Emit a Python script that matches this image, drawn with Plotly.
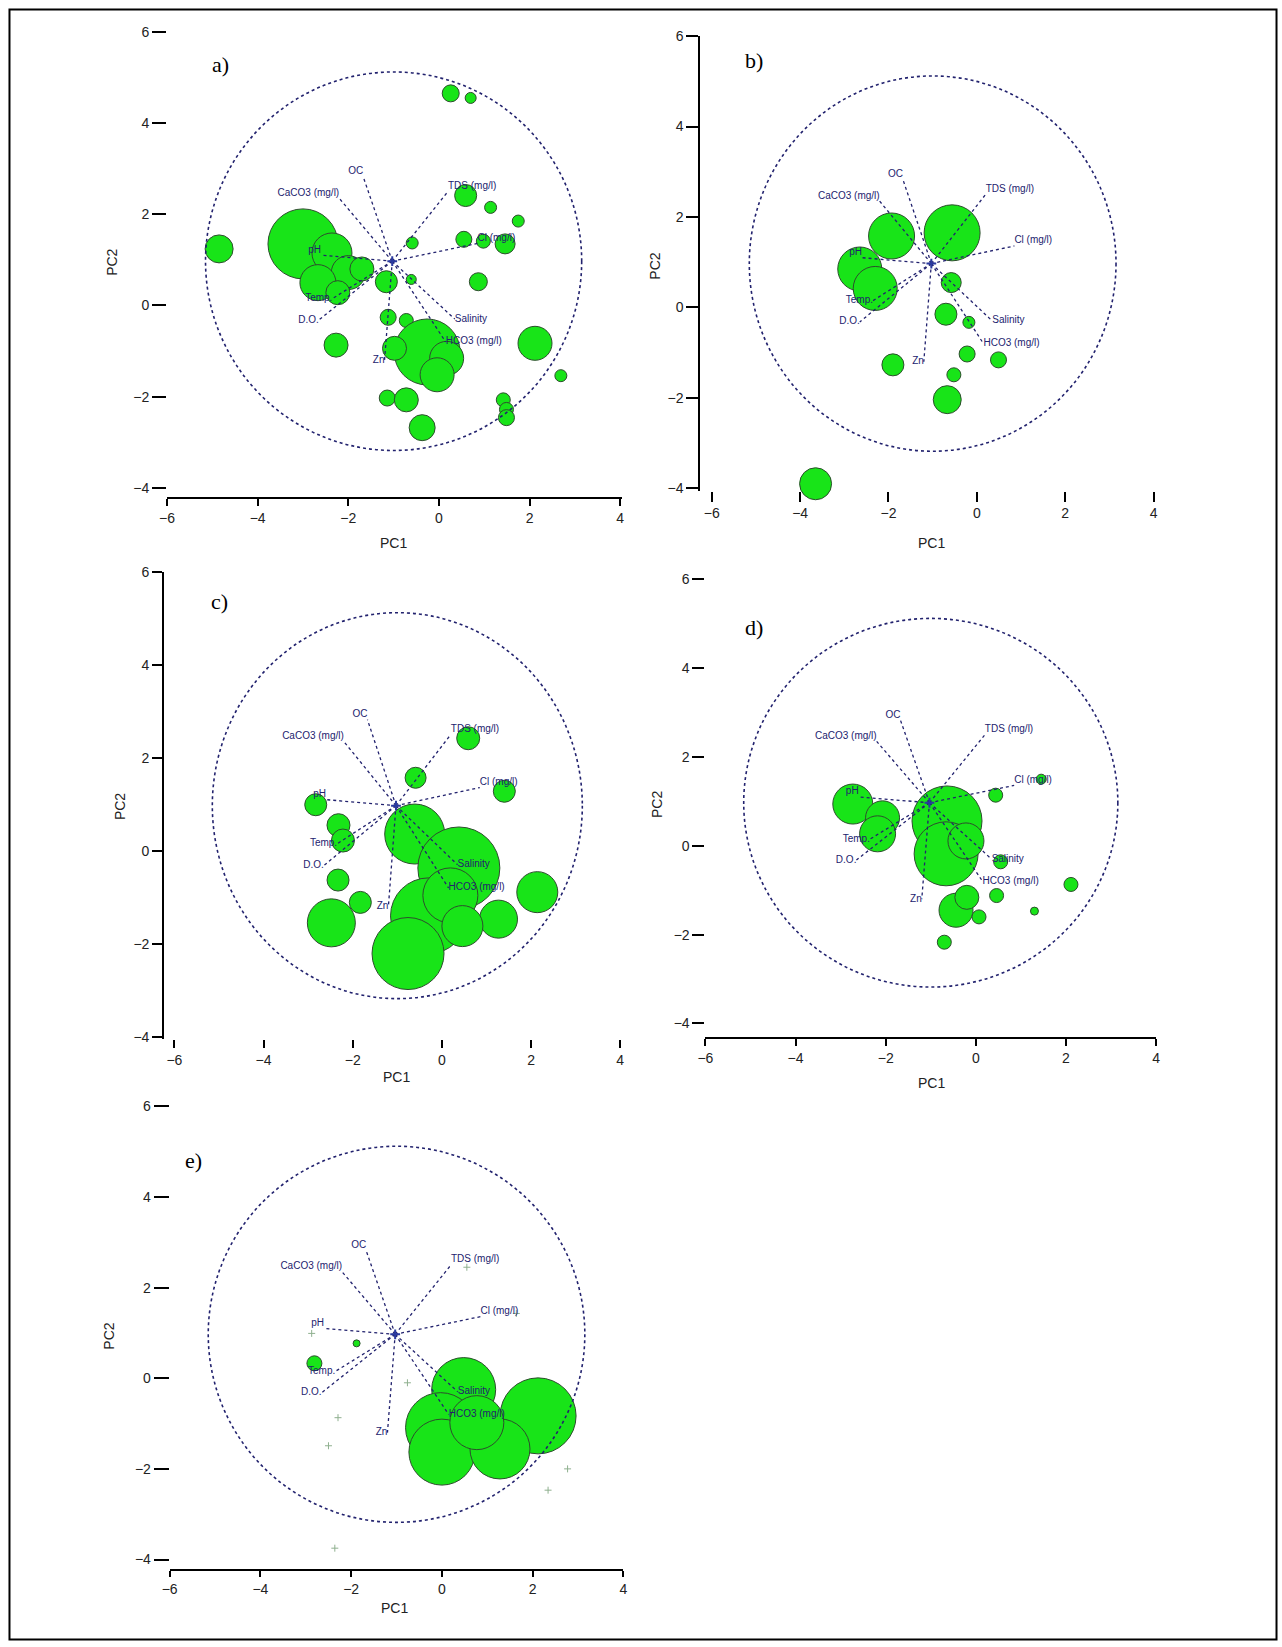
import plotly.graph_objects as go

W, H = 1282, 1647
GREEN = "#18e418"
NAVY = "#22226e"

# variable loadings: tips of the vectors (PC1, PC2), same set in every panel
var_names = ["OC", "CaCO3 (mg/l)", "TDS (mg/l)", "Cl (mg/l)", "pH",
             "Temp.", "D.O.", "Zn", "Salinity", "HCO3 (mg/l)"]
var_pc1 = [-1.67, -2.2, 0.2, 0.85, -2.6, -2.35, -2.65, -1.2, 0.35, 0.15]
var_pc2 = [2.82, 2.35, 2.5, 1.36, 1.1, 0.15, -0.32, -1.2, -0.3, -0.8]
var_textpos = ["top left", "top left", "top right", "top right", "top left",
               "middle left", "middle left", "middle left", "middle right", "middle right"]
origin = (-1.03, 0.97)
circle_c = (-1.0, 0.97)
circle_r = 4.15

# site scores and bubble diameters, panel a
a_pc1 = [0.26, 0.7, -4.85, -3.0, -2.36, -2.0, -2.67, -2.23, -1.7, -1.16, -0.61, -0.59,
         0.59, 1.14, 0.55, 0.98, 1.46, 1.75, 0.87, -1.12, -0.72, -0.26, 0.17, -0.04,
         -0.98, -2.27, -1.14, -0.72, -0.37, 2.12, 2.69, 1.42, 1.49, 1.49]
a_pc2 = [4.65, 4.55, 1.24, 1.35, 1.15, 0.72, 0.5, 0.28, 0.8, 0.52, 0.57, 1.37,
         2.41, 2.15, 1.45, 1.41, 1.35, 1.85, 0.52, -0.26, -0.33, -1.02, -1.16, -1.52,
         -0.94, -0.87, -2.03, -2.07, -2.68, -0.83, -1.54, -2.07, -2.28, -2.46]
a_size = [17, 11, 28, 70, 40, 34, 36, 24, 24, 22, 10, 12,
          22, 12, 16, 14, 20, 12, 18, 16, 14, 66, 34, 34,
          24, 24, 16, 24, 26, 34, 12, 14, 14, 16]

# panel b
b_pc1 = [-1.93, -0.56, -2.65, -2.3, -0.58, -0.7, -0.18, -1.9, -0.22, -0.52, -0.67, 0.49, -3.65]
b_pc2 = [1.58, 1.65, 0.85, 0.42, 0.55, -0.15, -0.33, -1.27, -1.03, -1.49, -2.04, -1.16, -3.9]
b_size = [46, 56, 44, 44, 20, 22, 12, 22, 16, 14, 28, 16, 32]

# panel c
c_pc1 = [0.59, -0.59, 1.4, -2.83, -2.32, -2.22, -2.33, -1.83, -2.48, -0.61, 0.38,
         -0.3, -0.76, 0.19, 1.27, 2.14, 0.46]
c_pc2 = [2.42, 1.57, 1.28, 0.99, 0.55, 0.22, -0.63, -1.11, -1.55, 0.36, -0.37,
         -1.4, -2.21, -0.96, -1.47, -0.89, -1.62]
c_size = [23, 21, 22, 22, 23, 23, 22, 22, 48, 60, 82, 76, 72, 55, 38, 41, 41]

# panel d
d_pc1 = [-2.73, -2.07, -2.18, -0.64, -0.66, -0.22, 0.44, 1.45, 0.55, 0.46, 2.11,
         1.3, -0.44, -0.2, 0.07, -0.7]
d_pc2 = [0.94, 0.63, 0.27, 0.56, -0.18, 0.11, 1.14, 1.5, -0.36, -1.12, -0.87,
         -1.47, -1.45, -1.16, -1.6, -2.17]
d_size = [40, 34, 36, 70, 64, 36, 14, 10, 14, 14, 14, 8, 34, 24, 14, 14]

# panel e
e_pc1 = [-2.81, -1.88, 0.48, -0.03, 0.0, 2.12, 1.28, 0.77]
e_pc2 = [0.33, 0.77, -0.25, -1.09, -1.63, -0.83, -1.56, -0.98]
e_size = [15, 7, 64, 70, 66, 76, 60, 54]
# sites with near-zero abundance in e (tiny marks)
e0_pc1 = [-2.87, 0.55, 1.64, -0.76, -2.29, -2.5, 2.77, 2.34, -2.36]
e0_pc2 = [0.99, 2.45, 1.43, -0.1, -0.87, -1.49, -2.0, -2.47, -3.75]

xticks = [-6, -4, -2, 0, 2, 4]
yticks = [-4, -2, 0, 2, 4, 6]

# pixel mapping of each panel: pixel of value 0 and pixels per unit
panels = [
    dict(tag="a)", pc1=a_pc1, pc2=a_pc2, size=a_size, x0=435, sx=45.75, y0=300, sy=46,
         xr=[-6, 4.05], yr=[-4.2, 6.0], xline=True, yline=False, xtl=7, ytl=14,
         letter=(215, 57), t1=(389, 540), t2=(105, 257)),
    dict(tag="b)", pc1=b_pc1, pc2=b_pc2, size=b_size, x0=978, sx=44.6, y0=302, sy=45.6,
         xr=[-6.26, 4.2], yr=[-4.05, 6.0], xline=False, yline=True, xtl=10, ytl=12,
         letter=(753, 53), t1=(932, 540), t2=(653, 260)),
    dict(tag="c)", pc1=c_pc1, pc2=c_pc2, size=c_size, x0=438, sx=45, y0=850, sy=46.9,
         xr=[-6.23, 4.2], yr=[-4.05, 6.0], xline=False, yline=True, xtl=8, ytl=10,
         letter=(214, 599), t1=(392, 1078), t2=(113, 805)),
    dict(tag="d)", pc1=d_pc1, pc2=d_pc2, size=d_size, x0=977, sx=45.5, y0=845, sy=44.8,
         xr=[-6, 4.0], yr=[-4.3, 6.0], xline=True, yline=False, xtl=7, ytl=12,
         letter=(753, 625), t1=(932, 1084), t2=(655, 803)),
    dict(tag="e)", pc1=e_pc1, pc2=e_pc2, size=e_size, x0=438, sx=45.8, y0=1382, sy=45.7,
         xr=[-6, 4.0], yr=[-4.22, 6.0], xline=True, yline=False, xtl=6, ytl=15,
         letter=(187, 1162), t1=(390, 1614), t2=(102, 1340)),
]

fig = go.Figure()
tickfont = dict(family="Liberation Sans, Arial", size=14, color="#222")
titlefont = dict(family="Liberation Sans, Arial", size=14, color="#222")


def note(px, py, text, font, angle=0):
    # text centred on a pixel position of the page
    fig.add_annotation(x=px / W, y=1 - py / H, xref="paper", yref="paper", text=text,
                       xanchor="center", yanchor="middle", textangle=angle,
                       showarrow=False, font=font)


for i, p in enumerate(panels):
    n = "" if i == 0 else str(i + 1)
    xr, yr = p["xr"], p["yr"]
    xdom = [(p["x0"] + xr[0] * p["sx"]) / W, (p["x0"] + xr[1] * p["sx"]) / W]
    ydom = [1 - (p["y0"] - yr[0] * p["sy"]) / H, 1 - (p["y0"] - yr[1] * p["sy"]) / H]
    fig.update_layout({
        "xaxis" + n: dict(domain=xdom, range=xr, anchor="y" + n, tickvals=xticks,
                          showgrid=False, zeroline=False, showline=p["xline"],
                          linecolor="black", linewidth=2, ticks="outside",
                          ticklen=p["xtl"], tickwidth=2, tickcolor="black",
                          tickfont=tickfont),
        "yaxis" + n: dict(domain=ydom, range=yr, anchor="x" + n, tickvals=yticks,
                          showgrid=False, zeroline=False, showline=p["yline"],
                          linecolor="black", linewidth=2, ticks="outside",
                          ticklen=p["ytl"], tickwidth=2, tickcolor="black",
                          tickfont=tickfont),
    })
    xs, ys = "x" + n, "y" + n

    fig.add_trace(go.Scatter(
        x=p["pc1"], y=p["pc2"], mode="markers", xaxis=xs, yaxis=ys,
        marker=dict(size=p["size"], sizemode="diameter", color=GREEN, opacity=1,
                    line=dict(color="#2d4d2d", width=1)),
        cliponaxis=False, showlegend=False, hoverinfo="skip"))

    if p["tag"] == "e)":
        fig.add_trace(go.Scatter(
            x=e0_pc1, y=e0_pc2, mode="markers", xaxis=xs, yaxis=ys,
            marker=dict(size=5, symbol="cross-thin", line=dict(color="#8fb08f", width=1)),
            cliponaxis=False, showlegend=False, hoverinfo="skip"))

    vx, vy = [], []
    for tx, ty in zip(var_pc1, var_pc2):
        vx += [origin[0], tx, None]
        vy += [origin[1], ty, None]
    fig.add_trace(go.Scatter(
        x=vx, y=vy, mode="lines", xaxis=xs, yaxis=ys,
        line=dict(color=NAVY, width=1.3, dash="dot"),
        showlegend=False, hoverinfo="skip"))
    fig.add_trace(go.Scatter(
        x=var_pc1, y=var_pc2, mode="text", xaxis=xs, yaxis=ys, text=var_names,
        textposition=var_textpos, cliponaxis=False,
        textfont=dict(family="Liberation Sans, Arial", size=10, color=NAVY),
        showlegend=False, hoverinfo="skip"))
    fig.add_trace(go.Scatter(
        x=[origin[0]], y=[origin[1]], mode="markers", xaxis=xs, yaxis=ys,
        marker=dict(size=7, symbol="cross-thin", line=dict(color="#2a3aa0", width=2)),
        showlegend=False, hoverinfo="skip"))

    fig.add_shape(type="circle", xref=xs, yref=ys,
                  x0=circle_c[0] - circle_r, x1=circle_c[0] + circle_r,
                  y0=circle_c[1] - circle_r, y1=circle_c[1] + circle_r,
                  line=dict(color=NAVY, width=1.6, dash="dot"))

    note(p["letter"][0], p["letter"][1], p["tag"],
         dict(family="Liberation Serif, Times New Roman", size=22, color="black"))
    note(p["t1"][0], p["t1"][1], "PC1", titlefont)
    note(p["t2"][0], p["t2"][1], "PC2", titlefont, angle=-90)

# outer frame
fig.add_shape(type="rect", xref="paper", yref="paper", x0=1.5 / W, x1=1 - 1.5 / W,
              y0=1.5 / H, y1=1 - 1.5 / H, line=dict(color="black", width=2))

fig.update_layout(width=W, height=H, autosize=False, margin=dict(l=0, r=0, t=0, b=0),
                  paper_bgcolor="white", plot_bgcolor="white", showlegend=False)

fig.write_html("out.html", config={"displayModeBar": False},
               post_script="document.body.style.margin='0';document.body.style.overflow='hidden';")
